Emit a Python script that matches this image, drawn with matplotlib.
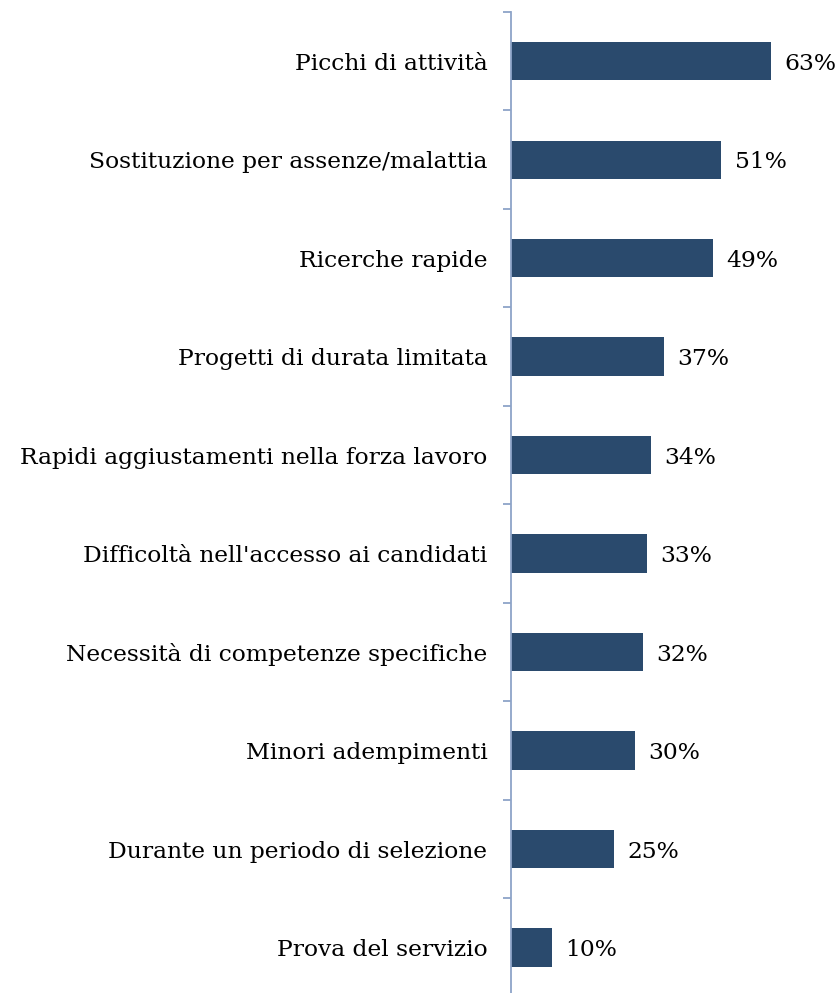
import numpy as np
import matplotlib.pyplot as plt

categories = [
    "Picchi di attività",
    "Sostituzione per assenze/malattia",
    "Ricerche rapide",
    "Progetti di durata limitata",
    "Rapidi aggiustamenti nella forza lavoro",
    "Difficoltà nell'accesso ai candidati",
    "Necessità di competenze specifiche",
    "Minori adempimenti",
    "Durante un periodo di selezione",
    "Prova del servizio",
]
values = [63, 51, 49, 37, 34, 33, 32, 30, 25, 10]

bar_color = "#2A4A6D"
axis_color = "#8EA4C8"

plt.rcParams["font.family"] = ["DejaVu Serif"]

fig = plt.figure(figsize=(8.37, 9.93), dpi=100)
ax = fig.add_axes([511 / 837, 0, 1 - 511 / 837, (993 - 12) / 993])

y = np.arange(len(categories))
ax.barh(y, values, height=0.39, color=bar_color)

for yi, v in zip(y, values):
    ax.annotate(f"{v}%", (v, yi), xytext=(9.5, 0), textcoords="offset points",
                va="center_baseline", ha="left", fontsize=16.8, color="black")

ax.set_xlim(0, 79)
ax.set_ylim(9.462, -0.5)

ax.set_yticks(y)
ax.set_yticklabels(categories, fontsize=16.8)
ax.tick_params(axis="y", which="major", length=0, pad=17)
ax.set_yticks(np.arange(-0.5, 9, 1), minor=True)
ax.tick_params(axis="y", which="minor", length=6, width=1.3, color=axis_color)
ax.set_xticks([])

for s in ["top", "right", "bottom"]:
    ax.spines[s].set_visible(False)
ax.spines["left"].set_color(axis_color)
ax.spines["left"].set_linewidth(1.3)

fig.savefig("out.png", dpi=100)
